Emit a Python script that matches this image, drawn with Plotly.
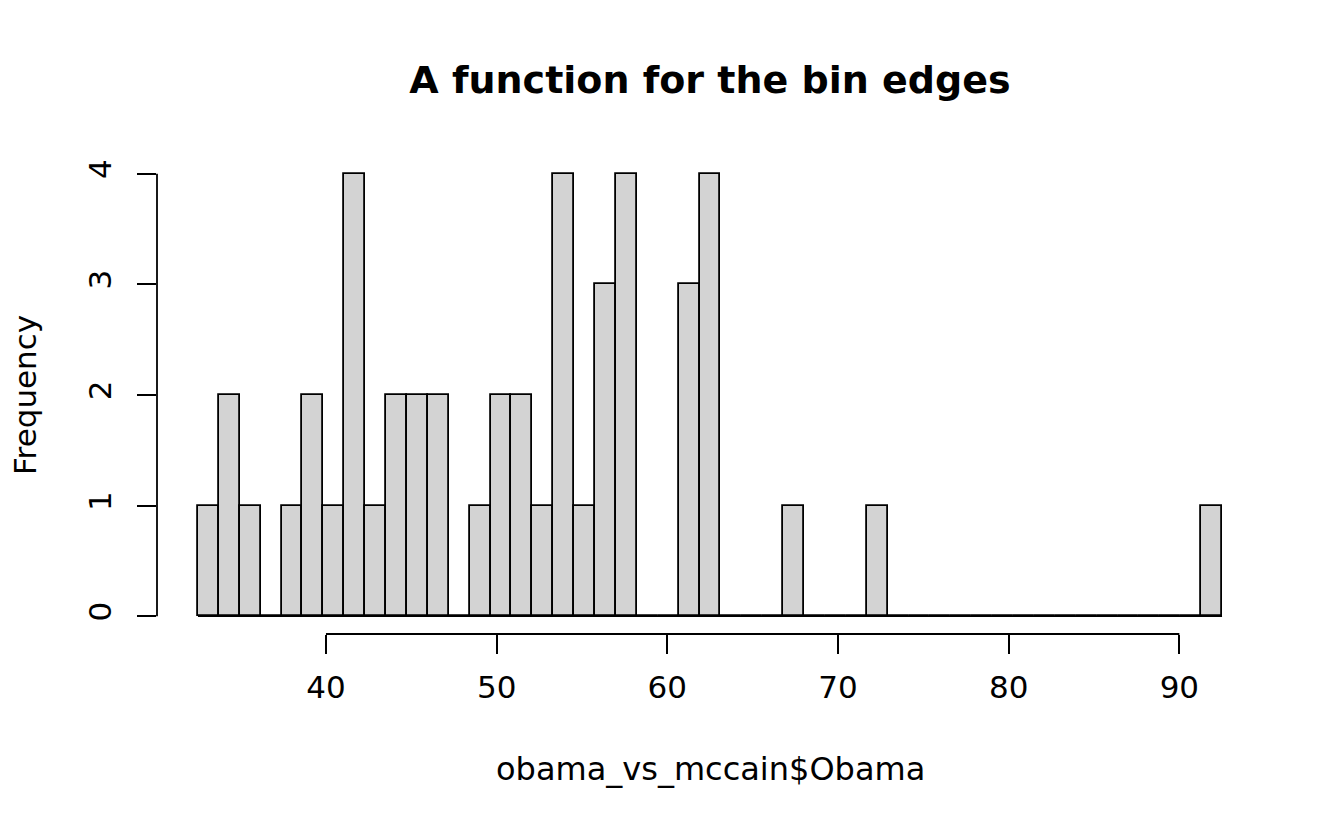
import numpy as np
import plotly.graph_objects as go

# Data
obama_min = 32.5
obama_max = 92.5
n_breaks = 50
counts = [1, 2, 1, 0, 1, 2, 1, 4, 1, 2, 2, 2, 0, 1, 2, 2, 1, 4, 1, 3, 4, 0, 0, 3, 4,
          0, 0, 0, 1, 0, 0, 0, 1, 0, 0, 0, 0, 0, 0, 0, 0, 0, 0, 0, 0, 0, 0, 0, 1]
x_ticks = [40, 50, 60, 70, 80, 90]
y_ticks = [0, 1, 2, 3, 4]

edges = np.linspace(obama_min, obama_max, n_breaks)
centers = (edges[:-1] + edges[1:]) / 2
width = edges[1] - edges[0]

FONT = "DejaVu Sans"
LW = 1.8
OFF = 8  # page body margin offset
W, H = 1344 - OFF, 830 - OFF

fig = go.Figure()
# baseline for zero-height bins (as R draws zero-height rectangles)
fig.add_trace(go.Scatter(x=edges, y=[0] * len(edges), mode="lines",
                         line=dict(color="black", width=1.5), hoverinfo="skip",
                         showlegend=False))
fig.add_trace(go.Bar(x=centers, y=counts, width=width,
                     marker=dict(color="#D3D3D3", line=dict(color="black", width=LW)),
                     showlegend=False))

xr = [obama_min - 0.04 * (obama_max - obama_min), obama_max + 0.04 * (obama_max - obama_min)]
ymax = max(counts)
yr = [-0.04 * ymax, ymax * 1.04]

fig.update_layout(
    width=W, height=H,
    margin=dict(l=157 - OFF, r=81, t=156 - OFF, b=196, autoexpand=False),
    paper_bgcolor="white", plot_bgcolor="white",
    bargap=0,
    font=dict(family=FONT, size=31, color="black"),
    title=dict(text="<b>A function for the bin edges</b>", font=dict(family=FONT, size=38, color="black"),
               x=0.5, xref="paper", xanchor="center", y=1 - (80 - OFF) / H, yref="container",
               yanchor="middle", automargin=False),
    xaxis=dict(range=xr, tickvals=x_ticks, ticktext=[str(v) for v in x_ticks], ticks="outside",
               ticklen=19, tickwidth=LW, tickcolor="black", showline=False, showgrid=False,
               zeroline=False, ticklabelstandoff=7, tickfont=dict(size=31), automargin=False),
    yaxis=dict(range=yr, tickvals=y_ticks, ticktext=[str(v) for v in y_ticks], ticks="outside",
               ticklen=19, tickwidth=LW, tickcolor="black", showline=False, showgrid=False,
               zeroline=False, tickangle=-90, ticklabelstandoff=14, tickfont=dict(size=31),
               automargin=False),
    shapes=[
        dict(type="line", xref="x", yref="paper", x0=x_ticks[0], x1=x_ticks[-1], y0=0, y1=0,
             line=dict(color="black", width=LW)),
        dict(type="line", xref="paper", yref="y", x0=0, x1=0, y0=y_ticks[0], y1=y_ticks[-1],
             line=dict(color="black", width=LW)),
    ],
    annotations=[
        dict(text="obama_vs_mccain$Obama", xref="paper", yref="paper", x=0.5, y=(634 - 769) / 478,
             xanchor="center", yanchor="middle", showarrow=False, font=dict(size=32)),
        dict(text="Frequency", xref="paper", yref="paper", x=(25 - 157) / 1106, y=0.5,
             xanchor="center", yanchor="middle", showarrow=False, textangle=-90, font=dict(size=31)),
    ],
)

fig.write_html("out.html")
